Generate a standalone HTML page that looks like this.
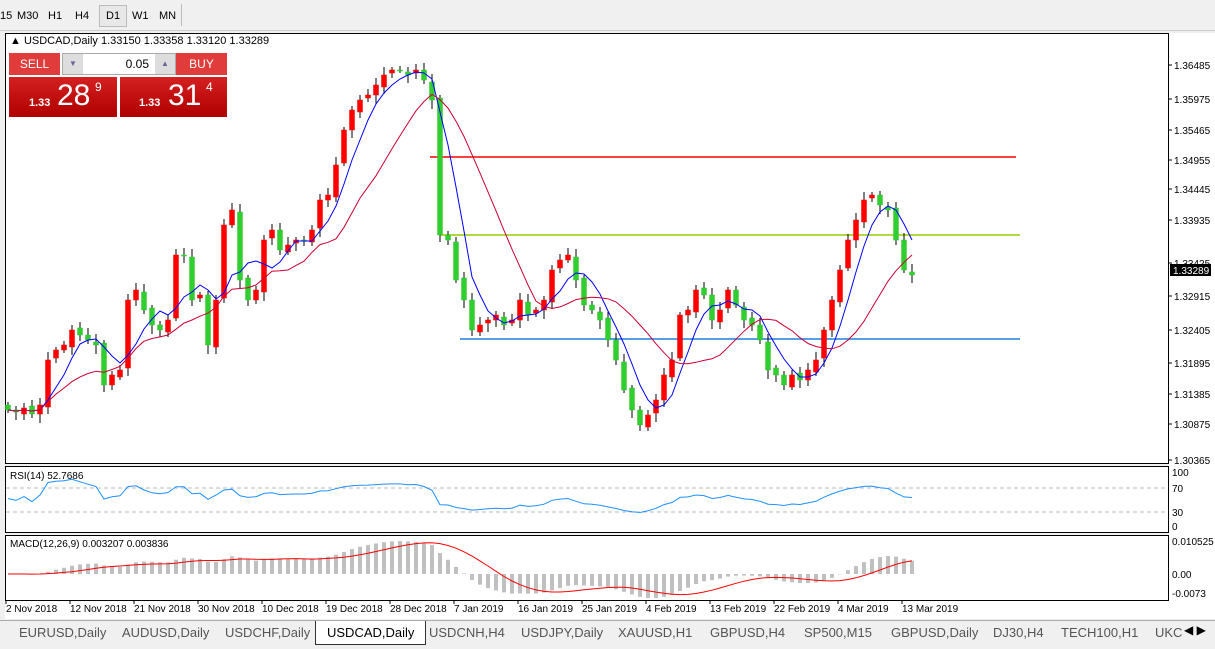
<!DOCTYPE html><html><head><meta charset="utf-8"><style>
body{margin:0;width:1215px;height:649px;background:#f0f0f0;font-family:"Liberation Sans",sans-serif;overflow:hidden;position:relative}
.tb{position:absolute;top:0;left:0;width:1215px;height:30px;background:#f0f0f0;border-bottom:1px solid #ccc;font-size:11px}
.tb span{position:absolute;top:10px}
.tabs{position:absolute;top:620px;left:0;width:1215px;height:29px;background:#f0f0f0;font-size:13px;color:#555}
.tabs span{position:absolute;top:5px}
</style></head><body>
<div class="tb"><span style="left:0">15</span><span style="left:17px">M30</span><span style="left:48px">H1</span><span style="left:75px">H4</span><span style="left:99px;top:5px;border:1px solid #bbb;padding:4px 6px;background:#e8e8e8">D1</span><span style="left:132px">W1</span><span style="left:159px">MN</span><div style="position:absolute;left:181px;top:4px;width:1px;height:22px;background:#bbb"></div></div>
<svg id="s" width="1215" height="649" style="position:absolute;top:0;left:0" font-family="Liberation Sans" font-size="10"></svg>
<div style="position:absolute;left:9px;top:53px;width:218px;height:64px;font-family:'Liberation Sans';color:#fff">
<div style="position:absolute;left:0;top:0;width:51px;height:22px;background:#e03c3c;font-size:12px;text-align:center;line-height:22px">SELL</div>
<div style="position:absolute;left:53px;top:0;width:114px;height:22px;background:#fff;border:1px solid #aaa;box-sizing:border-box;color:#000;font-size:12px;line-height:20px"><span style="position:absolute;left:0;width:20px;height:20px;background:#ddd;color:#669;text-align:center;font-size:8px">▼</span><span style="position:absolute;right:26px">0.05</span><span style="position:absolute;right:0;width:20px;height:20px;background:#ddd;color:#669;text-align:center;font-size:8px">▲</span></div>
<div style="position:absolute;left:167px;top:0;width:51px;height:22px;background:#e03c3c;font-size:12px;text-align:center;line-height:22px">BUY</div>
<div style="position:absolute;left:0;top:24px;width:108px;height:40px;background:linear-gradient(#d42020,#b00000)"><span style="position:absolute;left:20px;top:20px;font-size:11px;font-weight:bold">1.33</span><span style="position:absolute;left:48px;top:2px;font-size:30px">28</span><span style="position:absolute;left:86px;top:3px;font-size:12px">9</span></div>
<div style="position:absolute;left:111px;top:24px;width:107px;height:40px;background:linear-gradient(#d42020,#b00000)"><span style="position:absolute;left:19px;top:20px;font-size:11px;font-weight:bold">1.33</span><span style="position:absolute;left:48px;top:2px;font-size:30px">31</span><span style="position:absolute;left:86px;top:3px;font-size:12px">4</span></div>
</div>
<div class="tabs"><div style="position:absolute;left:0;top:0;width:1215px;height:1px;background:#aaa"></div>
<span style="left:19px">EURUSD,Daily</span><span style="left:122px">AUDUSD,Daily</span><span style="left:225px">USDCHF,Daily</span>
<span style="left:315px;top:1px;padding:4px 11px;background:#fff;border:1px solid #333;border-top:none;color:#000">USDCAD,Daily</span>
<span style="left:429px">USDCNH,H4</span><span style="left:521px">USDJPY,Daily</span><span style="left:618px">XAUUSD,H1</span><span style="left:710px">GBPUSD,H4</span><span style="left:804px">SP500,M15</span><span style="left:891px">GBPUSD,Daily</span><span style="left:993px">DJ30,H4</span><span style="left:1061px">TECH100,H1</span><span style="left:1155px">UKC</span><span style="left:1184px;top:3px;font-size:12px;color:#000">◀ ▶</span></div>
<script>
const S=document.getElementById('s');let h='';
const Y=[410,412,408,414,405,360,350,345,330,335,340,345,385,375,370,300,290,310,325,330,320,255,255,300,295,345,300,225,210,280,300,290,240,230,250,245,240,240,230,200,195,165,130,110,100,95,85,75,70,70,75,70,80,100,235,240,280,300,330,325,320,315,325,320,300,315,310,300,270,260,255,280,305,310,320,340,360,390,410,425,415,400,375,360,315,310,290,295,320,310,290,305,320,325,340,370,375,385,375,380,370,360,330,300,270,240,220,200,195,205,210,240,270,275];
const n=Y.length,dx=8;const X=i=>8+i*dx;
[[5,33,1163,430],[5,466,1163,66],[5,535,1163,65]].forEach(r=>h+=`<rect x="${r[0]}.5" y="${r[1]}.5" width="${r[2]}" height="${r[3]}" fill="#fff" stroke="#000"/>`);
h+='<rect x="1169" y="33" width="46" height="568" fill="#fff"/><rect x="5" y="601" width="1210" height="18" fill="#fff"/>';
const pl=[[65,'1.36485'],[99,'1.35975'],[130,'1.35465'],[160,'1.34955'],[189,'1.34445'],[220,'1.33935'],[263,'1.33425'],[296,'1.32915'],[330,'1.32405'],[363,'1.31895'],[394,'1.31385'],[424,'1.30875'],[460,'1.30365']];
pl.forEach(p=>h+=`<line x1="1168" x2="1172" y1="${p[0]}" y2="${p[0]}" stroke="#000"/><text x="1174" y="${p[0]+4}">${p[1]}</text>`);
h+='<rect x="1170" y="264" width="41" height="12" fill="#000"/><text x="1173" y="274" fill="#fff">1.33289</text>';
[[472,'100'],[488,'70'],[512,'30'],[526,'0'],[541,'0.010525'],[574,'0.00'],[593,'-0.0073']].forEach(p=>h+=`<text x="1172" y="${p[0]+4}">${p[1]}</text>`);
h+='<line x1="430" x2="1016" y1="157" y2="157" stroke="#f00" stroke-width="1.5"/><line x1="440" x2="1020" y1="235" y2="235" stroke="#9c0" stroke-width="1.5"/><line x1="460" x2="1020" y1="339" y2="339" stroke="#1e7fe0" stroke-width="1.5"/>';
for(let i=0;i<n;i++){const c=Y[i],o=i?Y[i-1]+(i%3-1)*2:405;const t=Math.min(o,c),b=Math.max(o,c);const up=c<o;const x=X(i);
h+=`<line x1="${x}" x2="${x}" y1="${t-3-(i*7%6)}" y2="${b+3+(i*5%7)}" stroke="#000"/>`;
h+=`<rect x="${x-2.5}" y="${t}" width="5" height="${Math.max(1,b-t)}" fill="${up?'#f00':'#3c3'}" stroke="${up?'#f00':'#3c3'}" stroke-width="0.5"/>`;}
const ma=p=>Y.map((v,i)=>{let s=0,k=0;for(let j=Math.max(0,i-p+1);j<=i;j++){s+=Y[j];k++}return s/k});
const pathOf=(a,f)=>a.map((v,i)=>(i?'L':'M')+X(i).toFixed(1)+' '+f(v,i).toFixed(1)).join('');
h+=`<path d="${pathOf(ma(5),v=>v)}" fill="none" stroke="#00f"/>`;
h+=`<path d="${pathOf(ma(13),v=>v)}" fill="none" stroke="#c03"/>`;
h+='<line x1="6" x2="1167" y1="488" y2="488" stroke="#bbb" stroke-dasharray="4,3"/><line x1="6" x2="1167" y1="512" y2="512" stroke="#bbb" stroke-dasharray="4,3"/>';
let ag=1,al=1;const rsi=Y.map((v,i)=>{if(i){const d=Y[i-1]-v;ag=(ag*13+Math.max(d,0))/14;al=(al*13+Math.max(-d,0))/14}return 100-100/(1+ag/al)});
h+=`<path d="${pathOf(rsi,v=>525-v*0.53)}" fill="none" stroke="#1e90ff"/>`;
const P=Y.map(v=>-v);const ema=(a,p)=>{let e=a[0];const k=2/(p+1);return a.map(v=>e=e+k*(v-e))};
const e12=ema(P,12),e26=ema(P,26);const m=e12.map((v,i)=>v-e26[i]);const sg=(()=>{let s=0,out=[];m.forEach((v,i)=>{s+=v;if(i>=9)s-=m[i-9];out.push(s/Math.min(i+1,9))});return out})();
const mf=v=>574-v*0.55;
m.forEach((v,i)=>{const y=mf(v);h+=`<rect x="${X(i)-2}" y="${Math.min(y,574)}" width="4" height="${Math.abs(y-574)}" fill="#c0c0c0"/>`});
h+=`<path d="${pathOf(sg,mf)}" fill="none" stroke="#f00"/>`;
h+='<text x="10" y="44" font-size="11">▲ USDCAD,Daily  1.33150 1.33358 1.33120 1.33289</text>';
h+='<text x="10" y="479">RSI(14) 52.7686</text><text x="10" y="547">MACD(12,26,9) 0.003207 0.003836</text>';
const dl=['2 Nov 2018','12 Nov 2018','21 Nov 2018','30 Nov 2018','10 Dec 2018','19 Dec 2018','28 Dec 2018','7 Jan 2019','16 Jan 2019','25 Jan 2019','4 Feb 2019','13 Feb 2019','22 Feb 2019','4 Mar 2019','13 Mar 2019'];
dl.forEach((d,i)=>{const x=6+i*64;h+=`<line x1="${x}" x2="${x}" y1="600" y2="604" stroke="#000"/><text x="${x}" y="612">${d}</text>`});
S.innerHTML=h;
</script></body></html>
